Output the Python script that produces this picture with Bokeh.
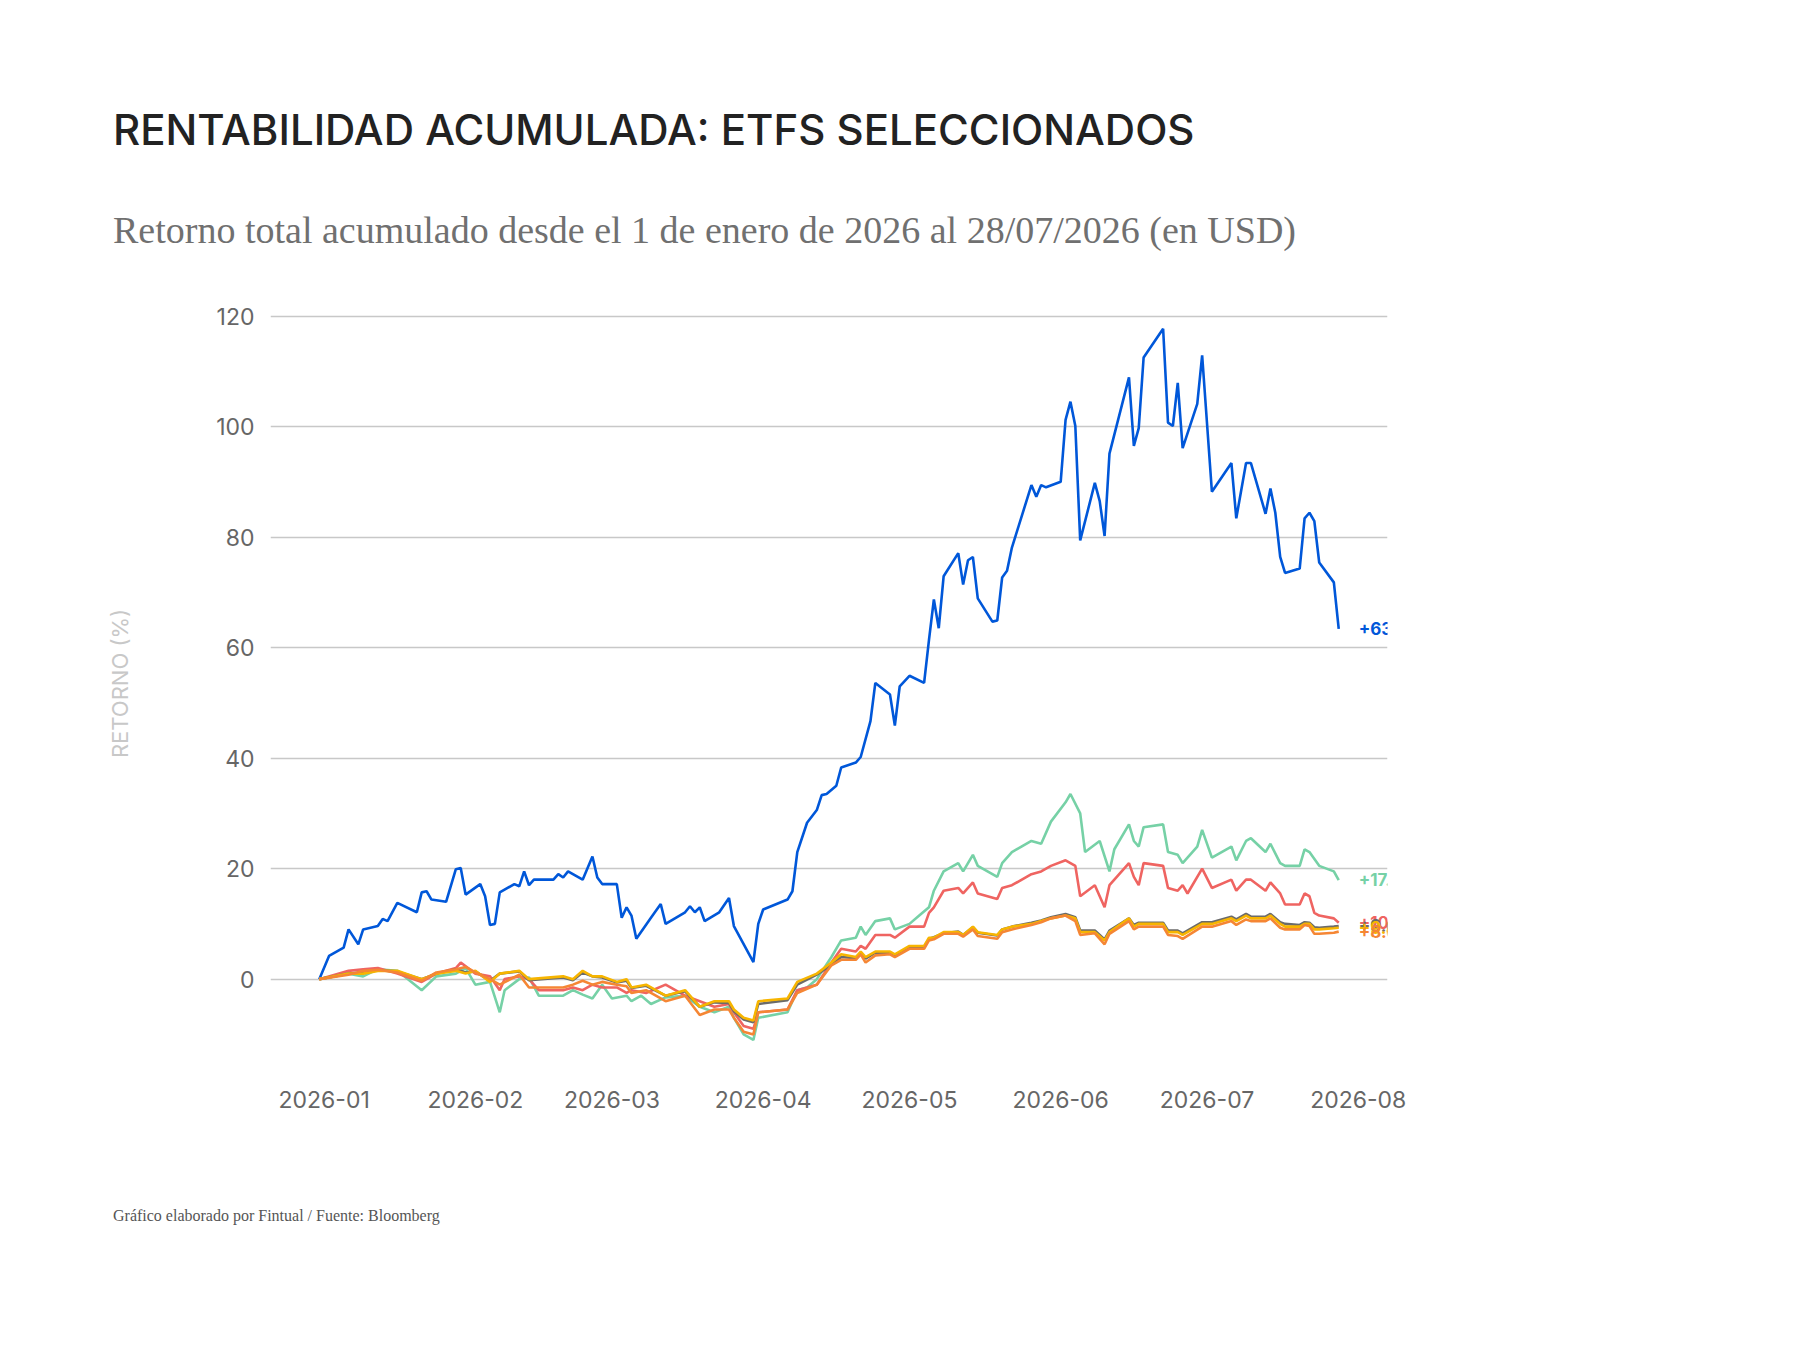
import numpy as np
from bokeh.plotting import figure
from bokeh.models import (Range1d, Div, Legend, LegendItem, MonthsTicker, DatetimeTickFormatter, ColumnDataSource)
from bokeh.layouts import column
from bokeh.core.properties import value
from bokeh.embed import file_html
from bokeh.resources import INLINE

BASE = "2026-01-01"
soxx_d = [-1,1,4,5,7,8,11,12,13,15,19,20,21,22,25,27,28,29,32,33,34,35,36,39,40,41,42,43,47,48,49,50,53,55,56,57,60,61,62,63,64,67,69,70,74,75,76,77,78,81,83,84,88,89,90,95,96,97,99,101,102,103,105,106,109,110,112,113,116,117,118,120,123,124,125,126,127,130,131,132,133,134,137,138,139,140,141,145,146,147,148,151,152,153,154,155,158,159,160,161,165,166,167,168,172,173,174,175,176,179,180,182,186,187,189,190,193,194,195,196,197,200,201,202,203,204,207,208]
soxx_v = [0,4.2,5.7,9,6.3,9,9.6,10.9,10.5,13.8,12.1,15.7,15.9,14.4,14,19.9,20.1,15.3,17.2,15,9.8,10,15.7,17.2,16.8,19.5,17,18,18,19,18.4,19.5,18,22.2,18.4,17.2,17.2,11.1,13,11.5,7.3,11.1,13.6,10,12.1,13.2,12.1,13,10.5,12.1,14.7,9.6,3.1,10,12.6,14.4,15.9,23,28.3,30.6,33.3,33.5,35,38.3,39.2,40.2,46.7,53.6,51.5,45.9,53,54.9,53.6,61.4,68.7,63.5,72.9,77.1,71.4,75.8,76.4,68.9,64.7,64.9,72.7,73.9,78.1,89.4,87.3,89.4,89,90,101.2,104.5,100.1,79.4,89.8,86.5,80.2,95.1,108.9,96.5,99.7,112.5,117.7,100.7,100.1,107.9,96.1,104.1,112.9,88.2,93.4,83.4,93.4,93.4,84.2,88.8,84.4,76.4,73.5,74.3,83.4,84.4,82.9,75.4,71.8,63.4]

vgt_d = [-1,5,8,11,15,20,23,27,29,31,34,36,37,40,42,44,49,51,53,55,57,59,62,63,65,67,70,74,77,80,83,84,86,88,89,95,97,99,101,104,106,109,110,111,113,116,117,120,122,124,125,127,130,131,133,134,138,139,141,145,147,149,152,153,155,156,159,161,162,165,166,167,168,172,173,175,176,179,180,182,186,187,189,190,193,194,196,197,200,201,202,204,207,208]
vgt_v = [0,1,0.5,1.8,1.5,-2,0.5,1,2,-1,-0.5,-6,-2,0,0.3,-3,-3,-2,-2.8,-3.5,-1,-3.5,-3,-4,-3,-4.5,-3.3,-3,-5,-6,-5,-7,-10,-11,-7,-6,-2,-1.5,0,4,7,7.5,9.5,8,10.5,11,9,10,11.5,13,16,19.5,21,19.5,22.5,20.5,18.5,21,23,25,24.5,28.5,32,33.5,30,23,25,19.5,23.5,28,25,24,27.5,28,23,22.5,21,24,27,22,24,21.5,25,25.5,23,24.5,21,20.5,20.5,23.5,23,20.5,19.5,17.9]

qqq_d = [-1,5,8,11,15,20,23,27,28,31,34,36,37,40,42,44,49,51,53,55,57,60,62,63,66,70,74,77,80,83,84,86,88,89,95,97,101,104,106,109,110,111,113,116,117,120,123,124,125,127,130,131,133,134,138,139,141,145,147,149,152,154,155,158,160,161,165,166,167,168,172,173,175,176,177,180,182,186,187,189,190,193,194,196,197,200,201,202,203,204,207,208]
qqq_v = [0,1.5,1.8,2,1,-0.5,1,2,3,1,0.5,-2,0,0.5,0,-2,-2,-1.5,-2,-1,-1.5,-1.5,-2.5,-2,-2.5,-1,-3,-4,-5,-4.5,-6,-8.5,-9,-6,-5.5,-2,-1,3,5.5,5,6,5.5,8,8,7.5,9.5,9.5,12,13,16,16.5,15.5,17.5,15.5,14.5,16.5,17,19,19.5,20.5,21.5,20.5,15,17,13,17,21,18.5,17,21,20.5,16.5,16,17,15.5,20,16.5,18,16,18,18,16,17.5,15.5,13.5,13.5,15.5,15,12,11.5,11,10.2]

broad_d = [-1,5,8,11,15,20,23,27,29,31,34,36,40,42,49,51,53,55,57,60,62,63,66,70,74,77,80,83,84,86,88,89,95,97,101,104,106,109,110,111,113,116,117,120,123,124,125,127,130,131,133,134,138,139,141,145,147,149,152,154,155,158,160,161,165,166,167,168,172,173,175,176,180,182,186,187,189,190,193,194,196,197,200,201,202,203,204,207,208]
esgu_v = [0,1,1.2,1.6,1.4,0,1,1.8,1.2,1.4,-0.3,1,1.4,-0.2,0.3,-0.2,1.2,0.5,0.3,-0.6,-0.3,-1.6,-1.2,-3,-2.2,-5,-4.2,-4.3,-5.8,-7.3,-7.8,-4.5,-3.8,-1,0.8,2.6,4,3.8,4.6,3.7,4.8,4.8,4.3,5.7,5.8,7.3,7.6,8.3,8.6,8,9.4,8.4,7.9,9,9.5,10.2,10.6,11.2,11.8,11.2,8.8,8.8,7.2,8.8,11,9.8,10.2,10.2,10.2,8.8,8.8,8.3,10.3,10.3,11.3,10.8,11.8,11.3,11.3,11.8,10.3,10,9.8,10.3,10.2,9.4,9.3,9.5,9.6]
voo_v = [0,1,1,1.5,1.5,0,1,1.5,1,1.5,-0.5,1,1.5,0,0.5,0,1.5,0.5,0.5,-0.5,0,-1.5,-1,-3,-2,-5,-4,-4,-5.5,-7,-7.5,-4,-3.5,-0.5,1,3,4.5,4,5,4,5,5,4.5,6,6,7.5,7.5,8.5,8.5,8,9.5,8.5,8,9,9.5,10,10.5,11,11.5,11,8.5,8.5,7,8.5,11,9.5,10,10,10,8.5,8.5,8,10,10,11,10.5,11.5,11,11,11.5,10,9.5,9.5,10,10,9,9,9.2,9.3]
esgv_v = [0,0.8,1.5,1.7,1.2,-0.3,1.2,1.8,2.2,1.2,0,-1,0.8,-1.5,-1.5,-1,-0.3,-1,-0.5,-1,-1.3,-2.5,-2,-4,-3,-6.5,-5.5,-5.5,-7,-9.5,-10,-6,-5.5,-2.5,-1,2.5,3.5,3.5,4.5,3,4.3,4.5,4,5.5,5.5,7,7.2,8.2,8.2,7.7,9,7.8,7.3,8.5,9,9.8,10.3,11,11.5,10.5,8,8.3,6.3,8.2,10.5,9,9.5,9.5,9.5,8,7.8,7.3,9.5,9.5,10.5,9.8,10.8,10.5,10.5,11,9.3,9,9,9.8,9.6,8.2,8.2,8.4,8.6]

names = ["SOXX", "VGT", "QQQ", "ESGU", "VOO", "ESGV"]
end_labels = ["+63.4%", "+17.9%", "+10.2%", "+9.6%", "+9.3%", "+8.6%"]
colors = ["#0057d9", "#76d1a6", "#ef6461", "#6b6b6b", "#f7b500", "#f58634"]
series = [(soxx_d, soxx_v), (vgt_d, vgt_v), (qqq_d, qqq_v), (broad_d, esgu_v), (broad_d, voo_v), (broad_d, esgv_v)]

base = np.datetime64(BASE)
def to_dt(days):
    return base + np.array(days).astype("timedelta64[D]")

p = figure(width=1767, height=894, x_axis_type="datetime", output_backend="svg", toolbar_location=None,
           min_border_left=270, min_border_right=380, min_border_top=38, min_border_bottom=110,
           y_range=Range1d(-14, 121),
           x_range=Range1d(to_dt([-11.5])[0], to_dt([218.6])[0]))
p.outline_line_color = None
p.background_fill_color = "white"
p.xgrid.grid_line_color = None
p.ygrid.grid_line_color = "#c8c8c8"
p.ygrid.grid_line_width = 1.3
p.yaxis.ticker = [0, 20, 40, 60, 80, 100, 120]
p.xaxis.ticker = MonthsTicker(months=list(range(1, 13)))
p.xaxis.formatter = DatetimeTickFormatter(months="%Y-%m", days="%Y-%m")
for ax in (p.xaxis, p.yaxis):
    ax.axis_line_color = None
    ax.major_tick_line_color = None
    ax.minor_tick_line_color = None
    ax.major_label_text_font = "Inter"
    ax.major_label_text_font_size = "23px"
    ax.major_label_text_color = "#666666"
p.xaxis.major_label_standoff = 28
p.yaxis.major_label_standoff = 10
p.yaxis.axis_label = "RETORNO (%)"
p.yaxis.axis_label_text_font = "Inter"
p.yaxis.axis_label_text_font_style = "normal"
p.yaxis.axis_label_text_font_size = "22px"
p.yaxis.axis_label_text_color = "#c8c8c8"
p.yaxis.axis_label_standoff = 80

items = []
for name, lab, col, (d, v) in zip(names, end_labels, colors, series):
    r = p.line(to_dt(d), v, line_color=col, line_width=2.6)
    items.append(LegendItem(label=name, renderers=[r]))
    src = ColumnDataSource(dict(x=to_dt([d[-1]]), y=[v[-1]], t=[lab]))
    p.text(x="x", y="y", text="t", source=src, x_offset=20, text_baseline="middle",
           text_color=col, text_font=value("Inter"), text_font_style="bold", text_font_size="17px")

legend = Legend(items=items, location=(1185, 190), label_text_font="Inter",
                label_text_font_size="33px", label_text_color="#707070", glyph_width=77,
                glyph_height=57, label_height=57, spacing=0, label_standoff=28,
                border_line_color=None, background_fill_alpha=0)
p.add_layout(legend, "center")

title = Div(text="RENTABILIDAD ACUMULADA: ETFS SELECCIONADOS", width=1500, height=60,
            margin=(100, 0, 0, 113),
            styles={"font-family": "Inter", "font-size": "42px", "line-height": "60px",
                    "color": "#222222", "font-weight": "500", "white-space": "nowrap"})
sub = Div(text="Retorno total acumulado desde el 1 de enero de 2026 al 28/07/2026 (en USD)", width=1500, height=60,
          margin=(40, 0, 0, 113),
          styles={"font-family": "Liberation Serif", "font-size": "38px", "line-height": "60px",
                  "color": "#707070", "white-space": "nowrap"})
foot = Div(text="Gráfico elaborado por Fintual / Fuente: Bloomberg", width=800, height=20,
           margin=(40, 0, 0, 113),
           styles={"font-family": "Liberation Serif", "font-size": "16px", "line-height": "20px",
                   "color": "#555555", "white-space": "nowrap"})
p.margin = (12, 0, 0, 0)
layout = column(title, sub, p, foot, spacing=0)
open("out.html", "w").write(file_html(layout, INLINE))
